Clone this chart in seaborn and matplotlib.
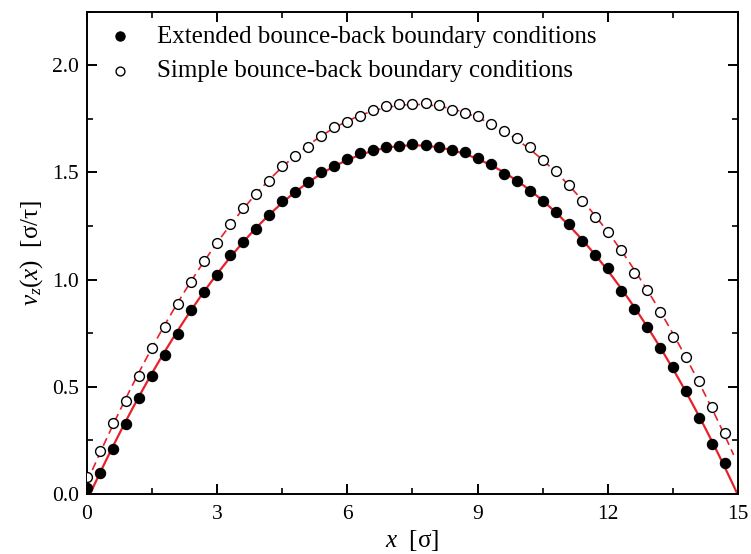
import matplotlib
matplotlib.use("Agg")
import matplotlib.pyplot as plt
import seaborn as sns
import pandas as pd
from matplotlib.ticker import MultipleLocator

# ---- data ----
x_sigma = [0.0, 0.3, 0.6, 0.9, 1.2, 1.5, 1.8, 2.1, 2.4, 2.7,
           3.0, 3.3, 3.6, 3.9, 4.2, 4.5, 4.8, 5.1, 5.4, 5.7,
           6.0, 6.3, 6.6, 6.9, 7.2, 7.5, 7.8, 8.1, 8.4, 8.7,
           9.0, 9.3, 9.6, 9.9, 10.2, 10.5, 10.8, 11.1, 11.4, 11.7,
           12.0, 12.3, 12.6, 12.9, 13.2, 13.5, 13.8, 14.1, 14.4, 14.7]
v_extended = [0.027, 0.098, 0.208, 0.328, 0.449, 0.549, 0.647, 0.747, 0.858, 0.940,
              1.020, 1.116, 1.175, 1.237, 1.299, 1.365, 1.409, 1.453, 1.503, 1.531,
              1.560, 1.591, 1.604, 1.619, 1.624, 1.632, 1.626, 1.616, 1.605, 1.593,
              1.565, 1.537, 1.493, 1.459, 1.411, 1.366, 1.316, 1.257, 1.180, 1.116,
              1.054, 0.948, 0.864, 0.777, 0.681, 0.591, 0.481, 0.356, 0.233, 0.146]
v_simple = [0.078, 0.200, 0.330, 0.435, 0.552, 0.679, 0.780, 0.886, 0.990, 1.086,
            1.169, 1.257, 1.333, 1.399, 1.461, 1.528, 1.577, 1.619, 1.668, 1.713,
            1.733, 1.765, 1.790, 1.810, 1.820, 1.820, 1.823, 1.812, 1.790, 1.778,
            1.765, 1.726, 1.692, 1.660, 1.616, 1.557, 1.507, 1.441, 1.367, 1.291,
            1.223, 1.137, 1.029, 0.950, 0.850, 0.733, 0.637, 0.525, 0.407, 0.283]
x_ticks = [0, 3, 6, 9, 12, 15]
y_ticks = [0.0, 0.5, 1.0, 1.5, 2.0]
legend_labels = ["Extended bounce-back boundary conditions",
                 "Simple bounce-back boundary conditions"]

df = pd.DataFrame({"x": x_sigma, "ext": v_extended, "simple": v_simple})

sns.set_theme(style="ticks")
plt.rcParams.update({
    "font.family": ["Liberation Serif", "DejaVu Serif"],
    "mathtext.fontset": "custom",
    "mathtext.rm": "Liberation Serif",
    "mathtext.it": "Liberation Serif:italic",
    "text.color": "black", "axes.labelcolor": "black",
    "axes.edgecolor": "black",
    "xtick.color": "black", "ytick.color": "black",
    "xtick.labelcolor": "black", "ytick.labelcolor": "black",
    "axes.linewidth": 1.4,
    "xtick.direction": "in", "ytick.direction": "in",
    "xtick.top": True, "ytick.right": True,
    "xtick.major.size": 7, "ytick.major.size": 7,
    "xtick.minor.size": 4, "ytick.minor.size": 4,
    "xtick.major.width": 1.4, "ytick.major.width": 1.4,
    "xtick.minor.width": 1.2, "ytick.minor.width": 1.2,
    "xtick.major.pad": 8, "ytick.major.pad": 6,
})

fig = plt.figure(figsize=(7.51, 5.54), dpi=100)
ax = fig.add_axes([0.1158, 0.1083, 0.8669, 0.8709])

red = "#e8202a"
# fitted curves (quadratic fits of the data)
ax.set_xlim(0, 14.9)
sns.regplot(data=df, x="x", y="simple", order=2, ci=None, scatter=False,
            truncate=False, ax=ax,
            line_kws=dict(color=red, lw=1.2, ls=(0, (5, 3)), zorder=2))
ax.set_xlim(0, 15)
sns.regplot(data=df, x="x", y="ext", order=2, ci=None, scatter=False,
            truncate=False, ax=ax,
            line_kws=dict(color=red, lw=1.6, zorder=2))

sns.scatterplot(data=df, x="x", y="ext", ax=ax, s=55, color="black",
                edgecolor="black", linewidth=0.8, zorder=4, label=legend_labels[0])
sns.scatterplot(data=df, x="x", y="simple", ax=ax, s=50, facecolor="white",
                edgecolor="black", linewidth=1.0, zorder=4, label=legend_labels[1])

ax.set_xlim(0, 15)
ax.set_ylim(0, 2.25)
ax.set_xticks(x_ticks)
ax.set_yticks(y_ticks)
ax.set_xticklabels([str(t) for t in x_ticks])
ax.set_yticklabels([f"{t:.1f}" for t in y_ticks])
ax.xaxis.set_minor_locator(MultipleLocator(1.5))
ax.yaxis.set_minor_locator(MultipleLocator(0.25))
ax.tick_params(labelsize=15.5)

ax.set_xlabel("$x$  [σ]", fontsize=18, labelpad=3)
ax.set_ylabel("$v_z(x)$  [σ/τ]", fontsize=18, labelpad=5)

leg = ax.legend(loc="upper left", bbox_to_anchor=(0.006, 1.0), frameon=False,
                fontsize=18, handletextpad=0.9, borderaxespad=0.1,
                labelspacing=0.48, markerscale=0.9, handlelength=1.2,
                borderpad=0.45)

fig.savefig("out.png", dpi=100)
